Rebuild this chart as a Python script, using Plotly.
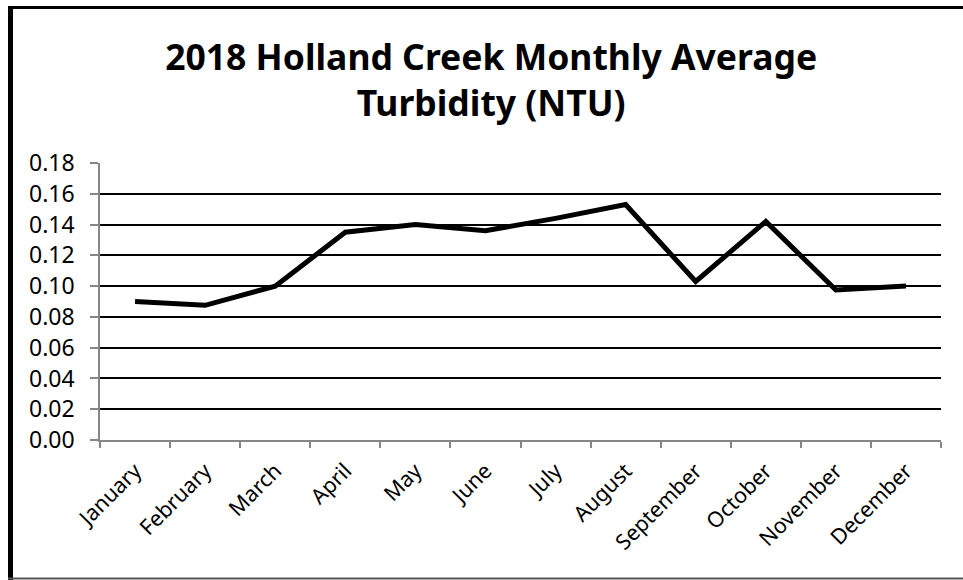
import plotly.graph_objects as go

months = ["January", "February", "March", "April", "May", "June", "July",
          "August", "September", "October", "November", "December"]
turbidity = [0.090, 0.0875, 0.100, 0.135, 0.140, 0.136, 0.144,
             0.153, 0.103, 0.142, 0.0975, 0.100]
y_ticks = [0.00, 0.02, 0.04, 0.06, 0.08, 0.10, 0.12, 0.14, 0.16, 0.18]
title_text = "2018 Holland Creek Monthly Average<br>Turbidity (NTU)"

W, H = 963, 580
L, R, T, B = 100, 22, 163, 140
pw, ph = W - L - R, H - T - B

fig = go.Figure()
fig.add_trace(go.Scatter(x=months, y=turbidity, mode="lines",
                         line=dict(color="black", width=5),
                         showlegend=False))

def px2paper_x(px):
    return (px - L) / pw

def px2paper_y(py):
    return (H - B - py) / ph

fig.update_layout(
    width=W, height=H,
    margin=dict(l=L, r=R, t=T, b=B),
    paper_bgcolor="white", plot_bgcolor="white",
    font=dict(family="Noto Sans", color="black"),
    title=dict(text=title_text, x=0.51, xanchor="center", y=0.879, yanchor="middle",
               font=dict(family="Noto Sans", size=35.5, color="black", weight="bold")),
    xaxis=dict(type="category", showgrid=False, showline=True, linecolor="#868686",
               linewidth=1.5, ticks="outside", tickson="boundaries", ticklen=6,
               tickcolor="#868686", tickwidth=1.5, tickangle=-45,
               tickfont=dict(size=21.5, color="black"), range=[-0.5, 11.5],
               ticklabelstandoff=8),
    yaxis=dict(range=[0, 0.18], tickvals=y_ticks, tickformat=".2f",
               showgrid=True, gridcolor="black", gridwidth=1.5,
               showline=True, linecolor="#868686", linewidth=1.5,
               ticks="outside", ticklen=8, tickcolor="#868686", tickwidth=1.5,
               tickfont=dict(size=23, color="black"), zeroline=False,
               ticklabelstandoff=11),
    shapes=[
        dict(type="line", xref="paper", yref="paper",
             x0=px2paper_x(10.5), x1=px2paper_x(10.5),
             y0=px2paper_y(6), y1=px2paper_y(582),
             line=dict(color="black", width=5)),
        dict(type="line", xref="paper", yref="paper",
             x0=px2paper_x(8), x1=px2paper_x(970),
             y0=px2paper_y(7.5), y1=px2paper_y(7.5),
             line=dict(color="black", width=3)),
        dict(type="line", xref="paper", yref="paper",
             x0=px2paper_x(8), x1=px2paper_x(970),
             y0=px2paper_y(578.5), y1=px2paper_y(578.5),
             line=dict(color="#555555", width=2)),
    ],
)

fig.write_html("out.html", config={"displayModeBar": False},
               post_script="document.body.style.margin='0';document.body.style.overflow='hidden';")
